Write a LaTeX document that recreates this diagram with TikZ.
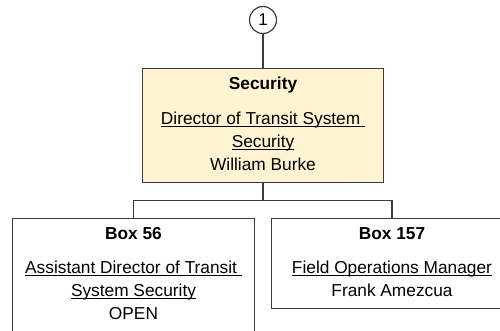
\documentclass[tikz,border=0pt]{standalone}
\usepackage{fontspec}
\setmainfont{Liberation Sans}
\usetikzlibrary{positioning}
\definecolor{linegray}{RGB}{60,60,60}
\definecolor{unitfill}{RGB}{255,243,210}
\newsavebox{\undrbox}
\newcommand{\undr}[1]{\sbox{\undrbox}{#1}\rlap{\rule[-2.6pt]{\wd\undrbox}{1.2pt}}\usebox{\undrbox}}
\tikzstyle{unit}=[
	rectangle,
	draw=linegray,
	line width=1.2pt,
	outer sep=0pt,
	minimum width=241.5pt,
	inner xsep=2pt,
	inner ysep=8.6pt,
	text depth=3.4pt,
	align=center,
	font=\fontsize{17.3pt}{23pt}\selectfont
]
\tikzstyle{ref}=[
	circle,
	draw=linegray,
	line width=1.2pt,
	outer sep=0pt,
	minimum size=27pt,
	inner sep=0pt,
	font=\fontsize{17pt}{20pt}\selectfont
]
\tikzstyle{link}=[
	draw=linegray,
	line width=1.2pt
]
\tikzstyle{reports}=[
	link,
	to path={(\tikztostart.north) |- ([yshift=-18pt]\tikztotarget.south) -- (\tikztotarget.south)}
]

\begin{document}
\begin{tikzpicture}[x=1pt,y=-1pt]
\useasboundingbox (0,0) rectangle (500,330);
\clip (0,0) rectangle (500,330);
\node [ref] (Ref1) at (263,20) {1};
\node [unit, fill=unitfill] (Security)[below=35pt of Ref1]
	{\textbf{Security}\\[12pt]\undr{Director of Transit System\ }\\\undr{Security}\\William Burke}
	edge [link] (Ref1);
\node [unit] (Box56)[below=36pt of Security, xshift=-129.5pt]
	{\textbf{Box 56}\\[11pt]\undr{Assistant Director of Transit\ }\\\undr{System Security}\\OPEN}
	edge [reports] (Security);
\node [unit] (Box157)[below=36pt of Security, xshift=129pt]
	{\textbf{Box 157}\\[11pt]\undr{Field Operations Manager}\\Frank Amezcua}
	edge [reports] (Security);
\end{tikzpicture}
\end{document}
